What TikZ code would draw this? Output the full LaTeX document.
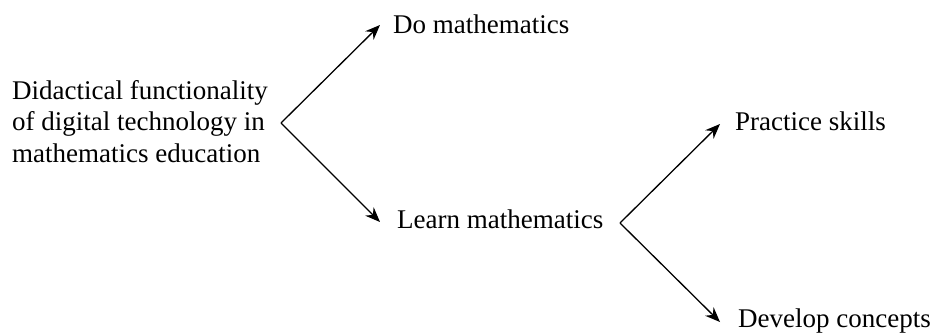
\documentclass[tikz,border=0pt]{standalone}
\usepackage{fontspec}
\setmainfont{Liberation Serif}
\usetikzlibrary{arrows.meta}
\begin{document}
\begin{tikzpicture}[x=1pt,y=-1pt,
  lbl/.style={inner sep=0pt, font=\fontsize{27}{31.5}\selectfont},
  arr/.style={line width=1.3pt, -{Stealth[length=15pt,width=12pt,inset=5pt]}}]
\useasboundingbox (0,0) rectangle (932,335);
\node[lbl, anchor=base west, align=left] (root) at (12,162) {Didactical functionality\\of digital technology in\\mathematics education};
\node[lbl, anchor=base west] (dm) at (393,33) {Do mathematics};
\node[lbl, anchor=base west] (lm) at (397,228) {Learn mathematics};
\node[lbl, anchor=base west] (ps) at (735,130) {Practice skills};
\node[lbl, anchor=base west] (dc) at (738,327) {Develop concepts};
\coordinate (v1) at (281,123);
\coordinate (t1) at (380,25);
\coordinate (t2) at (380,222);
\coordinate (v2) at (620,223);
\coordinate (t3) at (720,124);
\coordinate (t4) at (720,322);
\draw[arr] (v1) -- (t1);
\draw[arr] (v1) -- (t2);
\draw[arr] (v2) -- (t3);
\draw[arr] (v2) -- (t4);
\end{tikzpicture}
\end{document}
